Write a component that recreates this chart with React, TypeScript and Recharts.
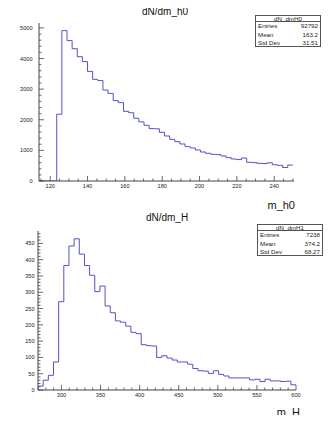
import { LineChart, Line, XAxis, YAxis } from 'recharts'

// dN/dm_h0 : 50 bins, 112.5 .. 250
const h0Lo = 112.5
const h0Width = 2.75
const h0Counts = [
  0, 0, 0, 0, 2180, 4910, 4585, 4320, 4060, 3900, 3580, 3320, 3280, 2970, 2860, 2625,
  2560, 2275, 2230, 2050, 1930, 1820, 1710, 1705, 1590, 1470, 1360, 1285, 1209, 1122,
  1078, 1013, 947, 904, 871, 860, 817, 762, 719, 700, 750, 610, 600, 577, 570, 595,
  530, 510, 440, 520,
]
const h0XMajor = [120, 140, 160, 180, 200, 220, 240]
const h0YMajor = [0, 1000, 2000, 3000, 4000, 5000]

// dN/dm_H : 50 bins, 270 .. 600
const hLo = 270
const hWidth = 6.6
const hCounts = [
  12, 30, 45, 86, 271, 382, 442, 464, 417, 382, 352, 302, 319, 258, 237, 212, 208, 196,
  177, 173, 139, 136, 135, 100, 105, 98, 92, 86, 86, 79, 66, 59, 58, 51, 59, 48, 43, 37,
  37, 37, 37, 31, 33, 26, 33, 28, 28, 26, 27, 16,
]
const hXMajor = [300, 350, 400, 450, 500, 550, 600]
const hYMajor = [0, 50, 100, 150, 200, 250, 300, 350, 400, 450]

const LINE = '#5252c8'
const FRAME = '#444'
const FONT = '"Liberation Sans", Arial, sans-serif'

function toSteps(lo: number, w: number, counts: number[]) {
  const pts = counts.map((c, i) => ({ x: lo + i * w, y: c }))
  pts.push({ x: lo + counts.length * w, y: counts[counts.length - 1] })
  return pts
}

function minorTicks(from: number, to: number, step: number) {
  const out: number[] = []
  for (let v = from; v <= to + 1e-9; v += step) out.push(Math.round(v * 100) / 100)
  return out
}

function XTick(props: any) {
  const { x, y, payload, majors } = props
  const major = majors.includes(payload.value)
  return (
    <g>
      <line x1={x} y1={y} x2={x} y2={y - (major ? 5 : 2.5)} stroke={FRAME} strokeWidth={0.8} />
      {major && (
        <text x={x} y={y + 4.5} textAnchor="middle" dominantBaseline="central" fontSize={5.6} fill="#222" fontFamily={FONT}>
          {payload.value}
        </text>
      )}
    </g>
  )
}

function YTick(props: any) {
  const { x, y, payload, majors, gap } = props
  const major = majors.includes(payload.value)
  return (
    <g>
      <line x1={x} y1={y} x2={x + (major ? 5 : 2.5)} y2={y} stroke={FRAME} strokeWidth={0.8} />
      {major && (
        <text x={x - gap} y={y} textAnchor="end" dominantBaseline="central" fontSize={5.6} fill="#222" fontFamily={FONT}>
          {payload.value}
        </text>
      )}
    </g>
  )
}

function StatsBox({ left, top, name, entries, mean, std }: any) {
  const row = { display: 'flex', justifyContent: 'space-between', padding: '0 2px', height: 8.7, lineHeight: '8.7px' }
  return (
    <div style={{
      position: 'absolute', left, top, width: 66, height: 32, background: '#fff',
      border: '1px solid #555', boxSizing: 'border-box', fontSize: 6.2, color: '#222',
    }}>
      <div style={{ textAlign: 'center', height: 5, lineHeight: '5px', borderBottom: '1px solid #555' }}>{name}</div>
      <div style={row}><span>Entries</span><span>{entries}</span></div>
      <div style={row}><span>Mean</span><span>{mean}</span></div>
      <div style={row}><span>Std Dev</span><span>{std}</span></div>
    </div>
  )
}

function Histo({ data, xDomain, yDomain, xTicks, yTicks, xMajor, yMajor, margin, height, gap }: any) {
  return (
    <LineChart width={332} height={height} data={data} margin={margin}>
      <XAxis dataKey="x" type="number" domain={xDomain} allowDataOverflow ticks={xTicks} interval={0}
        tickSize={0} tickMargin={0} height={20} axisLine={{ stroke: FRAME }}
        tick={(p: any) => <XTick {...p} majors={xMajor} />} />
      <XAxis xAxisId="top" dataKey="x" type="number" domain={xDomain} orientation="top" height={0}
        tick={false} tickLine={false} axisLine={{ stroke: '#222' }} />
      <YAxis type="number" domain={yDomain} allowDataOverflow ticks={yTicks} interval={0} width={30}
        tickSize={0} tickMargin={0} axisLine={{ stroke: FRAME }}
        tick={(p: any) => <YTick {...p} majors={yMajor} gap={gap} />} />
      <YAxis yAxisId="right" type="number" domain={yDomain} orientation="right" width={0}
        tick={false} tickLine={false} axisLine={{ stroke: '#222' }} />
      <Line type="stepAfter" dataKey="y" stroke={LINE} strokeWidth={1} dot={false} isAnimationActive={false} />
    </LineChart>
  )
}

export default function App() {
  const h0Data = toSteps(h0Lo, h0Width, h0Counts)
  const hData = toSteps(hLo, hWidth, hCounts)
  const title = {
    position: 'absolute' as const, left: 0, width: 332, textAlign: 'center' as const,
    fontSize: 10, lineHeight: '12px', color: '#111',
  }
  const axisTitle = { position: 'absolute' as const, fontSize: 11, lineHeight: '13px', color: '#111' }
  return (
    <div style={{ position: 'relative', width: 332, height: 423, margin: -8, background: '#fff', fontFamily: FONT }}>
      <div style={{ position: 'absolute', left: 0, top: 0 }}>
        <Histo data={h0Data} xDomain={[114, 250.6]} yDomain={[0, 5160]}
          xTicks={minorTicks(115, 250, 5)} yTicks={minorTicks(0, 5000, 200)}
          xMajor={h0XMajor} yMajor={h0YMajor} height={210}
          margin={{ top: 23, right: 38, left: 9, bottom: 9 }} gap={6.5} />
      </div>
      <div style={{ position: 'absolute', left: 0, top: 210 }}>
        <Histo data={hData} xDomain={[270, 600]} yDomain={[0, 488]}
          xTicks={minorTicks(270, 600, 10)} yTicks={minorTicks(0, 480, 10)}
          xMajor={hXMajor} yMajor={hYMajor} height={213}
          margin={{ top: 21, right: 36, left: 8, bottom: 13 }} gap={3.5} />
      </div>
      <div style={{ ...title, top: 6, left: -1 }}>dN/dm_h0</div>
      <div style={{ ...title, top: 212, left: 1 }}>dN/dm_H</div>
      <StatsBox left={255} top={15} name="dN_dmH0" entries="92792" mean="163.2" std="31.51" />
      <StatsBox left={257} top={224} name="dN_dmH1" entries="7238" mean="374.2" std="68.27" />
      <div style={{ ...axisTitle, right: 37, top: 199 }}>m_h0</div>
      <div style={{ ...axisTitle, right: 32, top: 406 }}>m_H</div>
    </div>
  )
}
